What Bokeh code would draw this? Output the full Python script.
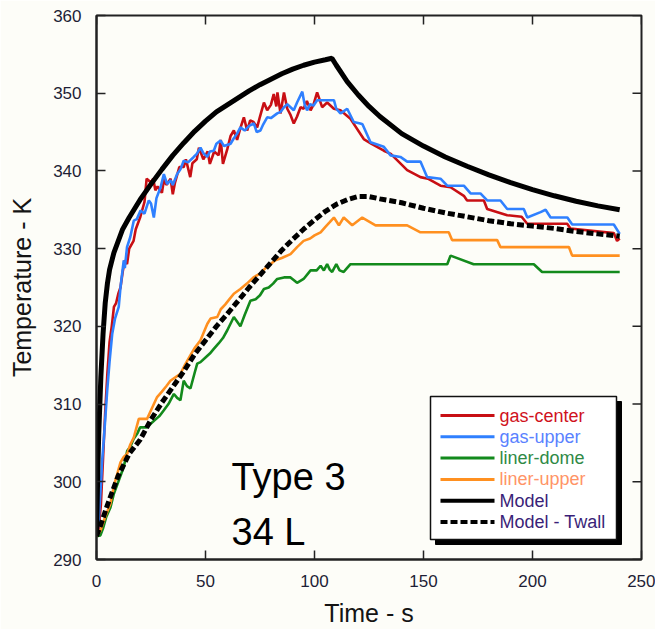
from bokeh.plotting import figure
from bokeh.models import Range1d, FixedTicker, Label, ColumnDataSource
from bokeh.core.properties import value
from bokeh.embed import file_html
from bokeh.resources import INLINE

# ---------------- data ----------------
gas_center_t = [0, 1, 2, 3, 4, 5, 6, 7, 8, 9, 10, 11, 12, 13, 14, 15, 17, 18, 20, 22, 23, 25, 26, 27, 28,
                30, 31, 32, 34, 35, 36, 38, 40, 41, 43, 44, 46, 47, 49, 51, 52, 54, 56, 57, 58,
                60, 61.5, 63, 64.5, 66, 67.6, 69.1, 70.5, 72, 73.7, 75, 76.8, 78.3, 80, 81.3, 82.5, 83,
                84.4, 86, 87.5, 89, 90.5, 92, 93.6, 95, 96.5, 98.2, 99.5, 101.2, 103.5, 105.8, 108.9,
                111.9, 116.5, 122.6, 126, 131.8, 135, 142.5, 148.6, 152, 157.8, 162.4, 168.5, 170,
                177.7, 179.2, 188.4, 195, 197.6, 215.9, 217.4, 237.3, 238.8, 240]
gas_center_T = [293, 294, 297, 303, 309, 314, 318, 320, 322.5, 323, 324.2, 325, 327, 328.5, 328, 330, 331, 332.5,
                334, 336, 339, 338.5, 339, 337.5, 338, 337.2, 339, 338.2, 339, 337, 338.5, 340.5, 340.5,
                341.5, 339.2, 341, 341.5, 343, 341.5, 342.5, 340.9, 342.5, 342, 344, 340.9,
                342.8, 344.5, 345.2, 344, 345.5, 346.9, 345.2, 346.5, 346.3, 345.6, 347, 348.8, 347.8,
                348.5, 349.9, 348.3, 350.1, 347.4, 350.1, 348, 347.2, 346.1, 347, 348.2, 348, 349,
                347.8, 348.5, 350.1, 348.2, 348.8, 348, 347.8, 346.7, 344.1, 343.5, 342.6, 342.2,
                340.1, 339.2, 339, 338.1, 337.9, 336.8, 336.2, 336.2, 335.1, 334.3, 334.1, 333.2,
                333.2, 332.6, 332, 331, 331.3]

gas_upper_t = [0, 0.5, 1, 2, 2.6, 3.5, 4.9, 6, 7.2, 8.5, 10.2, 11, 12.5, 13, 14, 15.5, 17.1, 18.5, 20.2, 22,
               24, 25, 26.3, 27.5, 29.4, 30.9, 32.4, 34, 35, 37, 38.5, 40, 42, 44.6, 46, 47.7, 49, 50.8,
               52, 53.8, 55, 56.9, 58.5, 61.5, 63, 64.5, 66, 68, 70, 72.2, 73.5, 75.2, 76.5, 78.3, 80,
               82.9, 84.5, 86, 87.5, 89, 90.5, 92, 94.4, 95.5, 96.6, 98, 99.5, 101.2, 103, 108.9, 110,
               111.9, 113, 115, 118, 121, 122, 125.7, 131.8, 134.9, 139.4, 142.5, 148.6, 151.7, 157.8,
               160.9, 168.5, 171.6, 176.1, 179.2, 185.3, 188.4, 196, 197.6, 203.7, 206, 208.3, 216,
               218.2, 237.3, 240]
gas_upper_T = [293, 293.7, 295, 299.5, 302.7, 306, 311.7, 315.5, 319, 321, 322.5, 325, 328.5, 327.5, 330.2,
               331.5, 333.6, 333.8, 334.9, 334.5, 336.2, 335.8, 334, 336.5, 337.9, 339.6, 338.3, 338.8,
               338.2, 339.6, 340.2, 341.3, 341.1, 341.8, 342.2, 343, 342.3, 341.8, 342.5, 342.6, 343.5,
               343.9, 343.2, 343.5, 344.2, 344.8, 345.6, 345.2, 345.8, 346.1, 345, 345.2, 346, 346.9,
               346.8, 347.4, 347.6, 348.2, 348.6, 348.2, 347.8, 348.8, 350.2, 348.5, 347.8, 348.6,
               348.4, 349.1, 349.1, 349.1, 348, 347.4, 347.6, 348, 346.3, 346.1, 346, 343.7, 343.1,
               342, 341.8, 341.2, 341.2, 339.2, 339, 338.1, 338.1, 337.1, 337.1, 336.2, 336.2, 335.1,
               335.1, 334, 334.7, 335, 334, 334, 333.1, 333.1, 331.9]

liner_dome_t = [0, 1.8, 3, 4.5, 6.4, 8, 10, 12.5, 14.1, 15.5, 17, 18.7, 20, 23.2, 25, 27, 29, 30.9, 33,
                35.5, 37, 38.5, 40, 41.5, 43.1, 45, 46.2, 47.7, 50, 52, 53.8, 56, 58, 60, 63, 66, 68,
                70.6, 73, 75, 76.8, 79, 81, 82.9, 86, 89, 92, 95, 98.2, 101, 102.8, 104.3, 105.8, 107,
                108.1, 110, 111.5, 113.4, 116.5, 160.9, 162.4, 173, 200.6, 204.4, 240]
liner_dome_T = [293, 293.1, 294, 295.5, 296.7, 298.5, 300, 301.9, 304, 304.5, 305.5, 306.2, 307, 307,
                307.5, 308, 308.5, 309.2, 310, 311.3, 310.8, 310.5, 313, 312.3, 312, 314, 315.2, 315.4,
                316, 316.5, 317.1, 317.8, 318.5, 319.5, 321.2, 320, 321.5, 323.3, 323.5, 324, 324.8,
                325, 325.5, 326.1, 326.3, 326.3, 325.6, 326.1, 327.2, 327.2, 327.8, 327.2, 328, 327.3,
                327, 328, 327.2, 327, 328, 328, 329.1, 328, 328, 327, 327]

liner_upper_t = [0, 1.8, 4, 6.4, 8, 9.5, 11, 12.5, 14.1, 15.5, 17.1, 19.4, 23.2, 25, 27.8, 30, 32, 33.9,
                 36, 38.5, 40.5, 43.1, 45, 47.7, 50.8, 52.3, 55.4, 57, 59, 61, 63, 66, 69, 72, 75, 77.5,
                 79.8, 82, 85, 89, 92, 95, 98, 100, 102.8, 105, 107, 108.9, 111.2, 113.4, 117.3, 121.9,
                 128, 142.5, 148.6, 161.6, 163.1, 183.8, 185.3, 216.7, 218.2, 240]
liner_upper_T = [293, 293.7, 295.5, 297.2, 299.5, 301, 302.5, 303.2, 303.6, 304.8, 305.7, 308.1, 308.1,
                 309.2, 310.9, 311.6, 312.3, 313, 313.4, 313.9, 315, 316.3, 317.2, 318.2, 320.3, 321,
                 321.2, 322.2, 322.8, 323.5, 324.2, 324.8, 325.5, 326.3, 326.8, 327.5, 328, 328.5,
                 328.8, 329.3, 330.2, 331, 331.3, 331.7, 332.1, 332.8, 333.4, 334, 333, 334, 333, 334,
                 333, 333, 332.1, 332.1, 331.1, 331.1, 330.2, 330.2, 329.1, 329.1]

model_t = [0, 0.5, 1, 2, 3, 4, 5, 6, 8, 10, 12, 15, 20, 25, 30, 35, 40, 45, 50, 55, 60, 65, 70, 75, 80,
           85, 90, 95, 100, 105, 108, 110, 115, 120, 125, 130, 140, 150, 160, 170, 180, 190, 200, 210,
           220, 230, 240]
model_T = [293, 300, 306, 313.5, 319, 323, 325.5, 327.3, 329.5, 331, 332.5, 334, 336.3, 338.3, 340.2,
           342, 343.6, 345.1, 346.4, 347.6, 348.5, 349.4, 350.3, 351.1, 351.8, 352.5, 353.1, 353.6,
           354, 354.3, 354.5, 353.6, 351.5, 349.8, 348.3, 347, 344.8, 343.2, 341.8, 340.6, 339.5,
           338.5, 337.6, 336.8, 336.1, 335.5, 335.0]

twall_t = [0, 2, 5, 10, 15, 20, 25, 30, 35, 40, 45, 50, 55, 60, 65, 70, 75, 80, 85, 90, 95, 100, 105,
           110, 115, 120, 125, 130, 140, 150, 160, 170, 180, 190, 200, 210, 220, 230, 240]
twall_T = [293, 294.5, 297, 300.8, 303.6, 305.4, 308.0, 310.2, 312.2, 314.2, 316.4, 318.2, 320, 321.6,
           323.3, 325, 326.6, 328.2, 329.8, 331.2, 332.5, 333.7, 334.8, 335.7, 336.3, 336.7, 336.7,
           336.4, 335.9, 335.2, 334.6, 334.1, 333.6, 333.2, 332.9, 332.6, 332.2, 331.9, 331.6]

series_names = ["gas-center", "gas-upper", "liner-dome", "liner-upper", "Model", "Model - Twall"]
line_colors = ["#c80f14", "#2f80ff", "#138a1c", "#ff9020", "#000000", "#000000"]
label_colors = ["#d0121c", "#5a82ff", "#2f8a46", "#ff9466", "#3a1f78", "#3a1f78"]

x_ticks = [0, 50, 100, 150, 200, 250]
y_ticks = [290, 300, 310, 320, 330, 340, 350, 360]

# ---------------- layout constants (pixels) ----------------
W, H = 655, 629
FL, FR, FT, FB = 96, 641, 15, 559
X0, X1, Y0, Y1 = 0, 250, 290, 360
TICK = 9


def px_x(px):
    return X0 + (px - FL) * (X1 - X0) / (FR - FL)


def px_y(py):
    return Y0 + (FB - py) * (Y1 - Y0) / (FB - FT)


BG = "#fdfdf8"
FONT = "Liberation Sans"
AX_COLOR = "#222222"

p = figure(width=W, height=H, x_range=Range1d(X0, X1), y_range=Range1d(Y0, Y1),
           output_backend="svg", toolbar_location=None,
           min_border_left=FL, min_border_right=W - FR, min_border_top=FT, min_border_bottom=H - FB)
p.background_fill_color = BG
p.border_fill_color = BG
p.outline_line_color = AX_COLOR
p.outline_line_width = 2
p.xgrid.visible = False
p.ygrid.visible = False


def style_axis(ax, ticks):
    ax.ticker = FixedTicker(ticks=ticks)
    ax.major_tick_in = TICK
    ax.major_tick_out = 0
    ax.minor_tick_in = 0
    ax.minor_tick_out = 0
    ax.axis_line_color = AX_COLOR
    ax.axis_line_width = 2
    ax.major_tick_line_color = AX_COLOR
    ax.major_tick_line_width = 1.5
    ax.major_label_text_font = FONT
    ax.major_label_text_font_size = "17px"
    ax.major_label_text_color = "#1e1e36"
    ax.major_label_standoff = 15
    ax.axis_label_text_font = FONT
    ax.axis_label_text_font_size = "25px"
    ax.axis_label_text_font_style = "normal"
    ax.axis_label_text_color = "#141414"


style_axis(p.xaxis[0], x_ticks)
style_axis(p.yaxis[0], y_ticks)
p.xaxis.axis_label = "Time - s"
p.yaxis.axis_label = "Temperature - K"
p.xaxis[0].axis_label_standoff = 9
p.yaxis[0].axis_label_standoff = 14

# inward ticks on the top and right frame edges
dy = px_y(FT + TICK) - Y1
dx = px_x(FR - TICK) - X1
p.segment(x0=x_ticks, y0=[Y1] * len(x_ticks), x1=x_ticks, y1=[Y1 + dy] * len(x_ticks),
          line_color=AX_COLOR, line_width=1.5)
p.segment(x0=[X1] * len(y_ticks), y0=y_ticks, x1=[X1 + dx] * len(y_ticks), y1=y_ticks,
          line_color=AX_COLOR, line_width=1.5)

# ---------------- series ----------------
data_series = [(gas_center_t, gas_center_T), (gas_upper_t, gas_upper_T),
               (liner_dome_t, liner_dome_T), (liner_upper_t, liner_upper_T)]
for (tt, TT), c in zip(data_series, line_colors[:4]):
    p.line(tt, TT, line_color=c, line_width=2.6)

p.line(twall_t, twall_T, line_color=line_colors[5], line_width=5, line_dash="7 3")
p.line(model_t, model_T, line_color=line_colors[4], line_width=5)

# ---------------- annotation ----------------
p.add_layout(Label(x=px_x(231), y=px_y(476), text="Type 3", text_font=FONT,
                   text_font_size="38px", text_color="#000000", text_baseline="alphabetic"))
p.add_layout(Label(x=px_x(231), y=px_y(531), text="34 L", text_font=FONT,
                   text_font_size="38px", text_color="#000000", text_baseline="alphabetic"))

# ---------------- legend (drawn box with shadow) ----------------
LB_L, LB_R, LB_T, LB_B = 430, 616, 396, 539
SH = 5
p.quad(left=[px_x(LB_L + SH)], right=[px_x(LB_R + SH)], top=[px_y(LB_T + SH)], bottom=[px_y(LB_B + SH)],
       fill_color="#000000", line_color="#000000")
p.quad(left=[px_x(LB_L)], right=[px_x(LB_R)], top=[px_y(LB_T)], bottom=[px_y(LB_B)],
       fill_color="#ffffff", line_color="#111111", line_width=1.5)

row_y = [415 + i * 21.3 for i in range(len(series_names))]
for i, (name, lc) in enumerate(zip(series_names, line_colors)):
    dash = "7 3" if name == "Model - Twall" else "solid"
    lw = 4 if name.startswith("Model") else 3
    p.line([px_x(440), px_x(494)], [px_y(row_y[i]), px_y(row_y[i])], line_color=lc,
           line_width=lw, line_dash=dash)

leg_src = ColumnDataSource(dict(x=[px_x(499)] * len(series_names), y=[px_y(v) for v in row_y],
                                text=series_names, color=label_colors))
p.text(x="x", y="y", text="text", text_color="color", source=leg_src,
       text_font=value(FONT), text_font_size="18px", text_baseline="middle", text_align="left")

open("out.html", "w").write(file_html(p, INLINE))
